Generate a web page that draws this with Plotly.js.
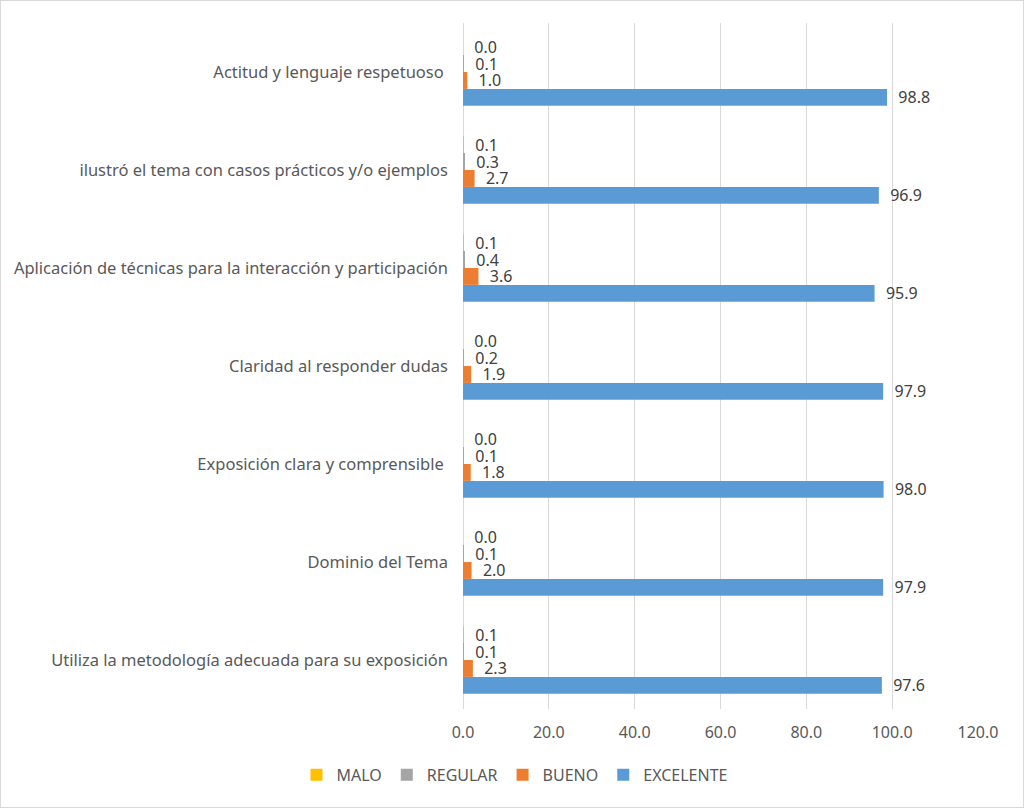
<!DOCTYPE html>
<html>
<head>
<meta charset="utf-8">
<script src="https://cdn.plot.ly/plotly-3.0.1.min.js"></script>
<style>
  body { margin: 0; background: #fff; }
  #chart { width: 1022px; height: 806px; border: 1px solid #d9d9d9; }
</style>
</head>
<body>
<div id="chart"></div>
<script>
"use strict";

// categories, bottom to top as they appear in the chart
var categories = [
  "Utiliza la metodología adecuada para su exposición",
  "Dominio del Tema",
  "Exposición clara y comprensible ",
  "Claridad al responder dudas",
  "Aplicación de técnicas para la interacción y participación",
  "ilustró el tema con casos prácticos y/o ejemplos",
  "Actitud y lenguaje respetuoso "
];

var malo      = [0.1, 0.0, 0.0, 0.0, 0.1, 0.1, 0.0];
var regular   = [0.1, 0.1, 0.1, 0.2, 0.4, 0.3, 0.1];
var bueno     = [2.3, 2.0, 1.8, 1.9, 3.6, 2.7, 1.0];
var excelente = [97.6, 97.9, 98.0, 97.9, 95.9, 96.9, 98.8];

var xTicks = [0, 20, 40, 60, 80, 100, 120];

function serie(name, vals, color) {
  return {
    type: "bar",
    orientation: "h",
    name: name,
    x: vals,
    y: categories,
    marker: { color: color },
    // two non-breaking spaces push the label off the bar end a bit, like the original
    texttemplate: "\u00a0\u00a0%{x:.1f}",
    textposition: "outside",
    constraintext: "none",
    cliponaxis: false,
    textfont: { family: "Noto Sans, sans-serif", size: 16, color: "#404040" },
    hoverinfo: "x+name"
  };
}

// plotly puts the first trace at the bottom of each group
var data = [
  serie("EXCELENTE", excelente, "#5B9BD5"),
  serie("BUENO", bueno, "#ED7D31"),
  serie("REGULAR", regular, "#A5A5A5"),
  serie("MALO", malo, "#FFC000")
];

var layout = {
  width: 1022,
  height: 806,
  margin: { l: 462, r: 45, t: 22, b: 98 },
  barmode: "group",
  bargap: 0.31,
  bargroupgap: 0,
  paper_bgcolor: "#fff",
  plot_bgcolor: "#fff",
  font: { family: "Noto Sans, sans-serif", size: 16.5, color: "#595959" },
  xaxis: {
    range: [0, 120],
    tickvals: xTicks,
    tickformat: ".1f",
    showgrid: true,
    gridcolor: "#d9d9d9",
    zeroline: true,
    zerolinecolor: "#d9d9d9",
    showline: false,
    ticks: "",
    ticklabelstandoff: 12,
    tickfont: { size: 16 },
    fixedrange: true
  },
  yaxis: {
    showgrid: false,
    zeroline: false,
    showline: false,
    ticks: "",
    ticklabelstandoff: 14,
    fixedrange: true
  },
  showlegend: true,
  legend: {
    orientation: "h",
    traceorder: "reversed",
    itemwidth: 30,
    x: 0.1,
    xanchor: "center",
    y: -0.096,
    yanchor: "middle",
    font: { size: 16, color: "#595959" }
  }
};

Plotly.newPlot("chart", data, layout, { displayModeBar: false, responsive: false });
</script>
</body>
</html>
